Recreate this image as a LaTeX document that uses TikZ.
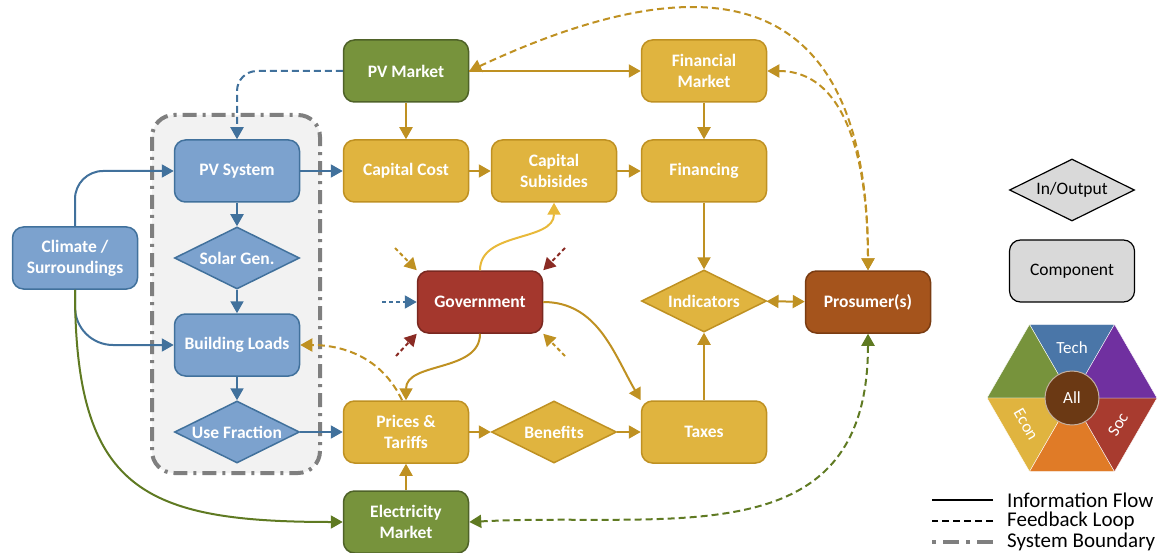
\documentclass[tikz,border=0pt]{standalone}
\usepackage{fontspec}
\setmainfont{Carlito}
\usetikzlibrary{shapes.geometric,arrows.meta}
\definecolor{bluefill}{HTML}{7CA2CE}
\definecolor{blueline}{HTML}{41719C}
\definecolor{goldfill}{HTML}{E0B43F}
\definecolor{goldline}{HTML}{BF9122}
\definecolor{goldlight}{HTML}{E8B93A}
\definecolor{greenfill}{HTML}{77933C}
\definecolor{greenline}{HTML}{4F6228}
\definecolor{greenarrow}{HTML}{5F7A22}
\definecolor{govfill}{HTML}{A4372D}
\definecolor{govline}{HTML}{7A2820}
\definecolor{redarrow}{HTML}{8A2B24}
\definecolor{prosfill}{HTML}{A5541C}
\definecolor{prosline}{HTML}{7A3C12}
\definecolor{legfill}{HTML}{D9D9D9}
\definecolor{bndfill}{HTML}{F2F2F2}
\definecolor{bndline}{HTML}{7F7F7F}
\definecolor{hexblue}{HTML}{4A76A8}
\definecolor{hexpurple}{HTML}{7030A0}
\definecolor{hexred}{HTML}{A83B2F}
\definecolor{hexorange}{HTML}{E07B27}
\definecolor{hexbrown}{HTML}{6B3914}

\begin{document}
\begin{tikzpicture}
  [x = 1pt, y = 1pt, >={Triangle[length = 12pt, width = 13pt]},
   box/.style = {rectangle, rounded corners = 11pt, minimum width = 125pt, minimum height = 62pt,
                 line width = 1.5pt, align = center, text = white, font = \bfseries\fontsize{17.5}{21}\selectfont},
   dia/.style = {diamond, aspect = 2, inner sep = 0pt, minimum width = 125pt, minimum height = 62pt,
                 line width = 1.5pt, align = center, text = white, font = \bfseries\fontsize{17.5}{21}\selectfont},
   bluebox/.style = {box, fill = bluefill, draw = blueline},
   bluedia/.style = {dia, fill = bluefill, draw = blueline},
   goldbox/.style = {box, fill = goldfill, draw = goldline},
   golddia/.style = {dia, fill = goldfill, draw = goldline},
   greenbox/.style = {box, fill = greenfill, draw = greenline},
   govbox/.style = {box, fill = govfill, draw = govline},
   prosbox/.style = {box, fill = prosfill, draw = prosline},
   legbox/.style = {box, fill = legfill, draw = black, line width = 1.2pt, text = black, font = \fontsize{17.5}{21}\selectfont},
   legdia/.style = {dia, fill = legfill, draw = black, line width = 1.2pt, text = black, font = \fontsize{17.5}{21}\selectfont},
   legtext/.style = {anchor = west, inner sep = 0pt, font = \fontsize{21}{24}\selectfont},
   hextext/.style = {text = white, inner sep = 1pt, font = \fontsize{17}{21}\selectfont},
   flow/.style = {->, line width = 2pt},
   feedback/.style = {flow, dash pattern = on 7pt off 4pt},
   hint/.style = {->, line width = 2pt, dash pattern = on 4pt off 3pt}]
  \useasboundingbox (0,0) rectangle (1166,-553);

  \filldraw[fill = bndfill, draw = bndline, line width = 4pt, rounded corners = 22pt,
            dash pattern = on 14pt off 6pt on 3pt off 6pt] (152,-115) rectangle (320,-473);

  \node[bluebox] (climate) at (75,-258) {Climate /\\Surroundings};
  \node[bluebox] (pvsys) at (237,-171) {PV System};
  \node[bluedia] (solar) at (237,-258) {Solar Gen.};
  \node[bluebox] (bldg) at (237,-345) {Building Loads};
  \node[bluedia] (usefrac) at (237,-432) {Use Fraction};
  \node[greenbox] (pvmarket) at (406,-71) {PV Market};
  \node[goldbox] (finmarket) at (704,-71) {Financial\\Market};
  \node[goldbox] (capcost) at (406,-171) {Capital Cost};
  \node[goldbox] (capsub) at (554,-171) {Capital\\Subisides};
  \node[goldbox] (financing) at (704,-171) {Financing};
  \node[govbox] (gov) at (480,-302) {Government};
  \node[golddia] (indic) at (704,-301) {Indicators};
  \node[prosbox] (prosumer) at (868,-302) {Prosumer(s)};
  \node[goldbox] (prices) at (406,-432) {Prices \&\\Tariffs};
  \node[golddia] (benefits) at (554,-432) {Benefits};
  \node[goldbox] (taxes) at (704,-432) {Taxes};
  \node[greenbox] (elecmarket) at (406,-522) {Electricity\\Market};

  \draw[flow, blueline, rounded corners = 28pt] (climate.north) |- (pvsys.west);
  \draw[flow, blueline, rounded corners = 38pt] (climate.south) |- (bldg.west);
  \draw[flow, greenarrow] (climate.south) to[out = -90, in = 180, out distance = 200pt, in distance = 200pt] (elecmarket.west);
  \draw[flow, blueline] (pvsys) -- (solar);
  \draw[flow, blueline] (solar) -- (bldg);
  \draw[flow, blueline] (bldg) -- (usefrac);
  \draw[flow, blueline] (pvsys) -- (capcost);
  \draw[flow, blueline] (usefrac) -- (prices);
  \draw[feedback, blueline, rounded corners = 20pt] (pvmarket.west) -| (pvsys.north);

  \draw[flow, goldline] (pvmarket) -- (finmarket);
  \draw[flow, goldline] (pvmarket) -- (capcost);
  \draw[flow, goldline] (finmarket) -- (financing);
  \draw[flow, goldline] (capcost) -- (capsub);
  \draw[flow, goldline] (capsub) -- (financing);
  \draw[flow, goldline] (financing) -- (indic);
  \draw[flow, goldline] (taxes) -- (indic);
  \draw[flow, goldline, <->] (indic) -- (prosumer);
  \draw[flow, goldline] (prices) -- (benefits);
  \draw[flow, goldline] (benefits) -- (taxes);
  \draw[flow, goldline] (elecmarket) -- (prices);
  \draw[flow, goldlight] (gov.north) to[out = 90, in = -90] (capsub.south);
  \draw[flow, goldline] (gov.south) to[out = -90, in = 90] (prices.north);
  \draw[flow, goldline] (gov.east) to[out = 0, in = 120] (taxes.north west);

  \draw[feedback, goldline, <->] (pvmarket.east) to[out = 25, in = 90, out distance = 320pt, in distance = 240pt] (prosumer.north);
  \draw[feedback, goldline, <->] (finmarket.east) to[out = 0, in = 90] (prosumer.north);
  \draw[feedback, goldline] ([xshift = -4pt]prices.north) to[out = 115, in = 0] (bldg.east);
  \draw[feedback, greenarrow, <->] (elecmarket.east) to[out = 3, in = -90, out distance = 200pt, in distance = 225pt] (prosumer.south);

  \coordinate (inTL) at (395,-248);
  \coordinate (inL) at (382,-302);
  \coordinate (inBL) at (396,-356);
  \coordinate (inTR) at (565,-248);
  \coordinate (inBR) at (565,-356);
  \draw[hint, goldline] (inTL) -- (gov.north west);
  \draw[hint, blueline] (inL) -- (gov.west);
  \draw[hint, redarrow] (inBL) -- (gov.south west);
  \draw[hint, redarrow] (inTR) -- (gov.north east);
  \draw[hint, goldline] (inBR) -- (gov.south east);

  \node[legdia] (lgio) at (1072,-190) {In/Output};
  \node[legbox] (lgcomp) at (1072,-271) {Component};

  \begin{scope}[shift = {(1072,-398)}]
    \filldraw[fill = hexblue, draw = white] (0,0) -- (60:85) -- (120:85) -- cycle;
    \filldraw[fill = greenfill, draw = white] (0,0) -- (120:85) -- (180:85) -- cycle;
    \filldraw[fill = goldfill, draw = white] (0,0) -- (180:85) -- (240:85) -- cycle;
    \filldraw[fill = hexorange, draw = white] (0,0) -- (240:85) -- (300:85) -- cycle;
    \filldraw[fill = hexred, draw = white] (0,0) -- (300:85) -- (360:85) -- cycle;
    \filldraw[fill = hexpurple, draw = white] (0,0) -- (0:85) -- (60:85) -- cycle;
    \node[hextext] (tech) at (90:50) {Tech};
    \node[hextext, rotate = -60] (econ) at (210:53) {Econ};
    \node[hextext, rotate = 60] (soc) at (330:53) {Soc};
    \node[circle, fill = hexbrown, draw = white!60!hexbrown, line width = 1pt, minimum size = 54pt,
          text = white, font = \fontsize{17}{21}\selectfont] (all) at (0,0) {All};
  \end{scope}

  \node[legtext] (lginfo) at (1007,-500) {Information Flow};
  \node[legtext] (lgfeed) at (1007,-521) {Feedback Loop};
  \node[legtext] (lgbnd) at (1007,-542) {System Boundary};
  \draw[line width = 2pt] ([xshift = -14pt]lginfo.west) -- ++(-61,0);
  \draw[line width = 2pt, dash pattern = on 7pt off 4pt] ([xshift = -14pt]lgfeed.west) -- ++(-61,0);
  \draw[bndline, line width = 4pt, dash pattern = on 16pt off 7pt on 4pt off 7pt] ([xshift = -14pt]lgbnd.west) -- ++(-61,0);
\end{tikzpicture}
\end{document}
